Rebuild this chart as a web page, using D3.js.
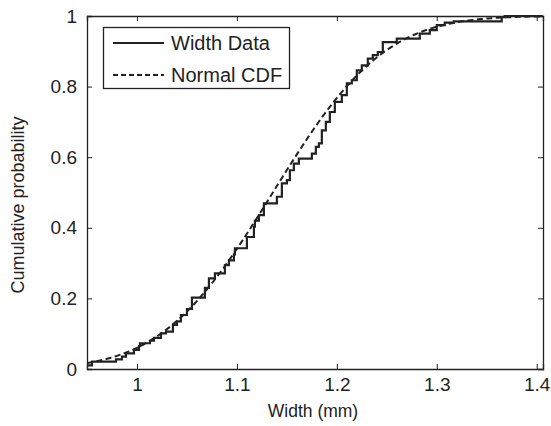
<!DOCTYPE html>
<html>
<head>
<meta charset="utf-8">
<script src="https://cdn.jsdelivr.net/npm/d3@7"></script>
<style>
  body { margin: 0; background: #fff; }
  text { font-family: "Liberation Sans", Arial, sans-serif; fill: #222; }
</style>
</head>
<body>
<svg width="551" height="426"></svg>
<script>
const svg = d3.select("svg");

// Empirical CDF of width data: step positions (mm) and cumulative probability after each step
const stepX = [0.950, 0.955, 0.979, 0.985, 0.989, 0.997, 1.002, 1.003, 1.013, 1.017,
  1.024, 1.029, 1.036, 1.040, 1.044, 1.050, 1.055, 1.068, 1.072, 1.078,
  1.088, 1.092, 1.097, 1.098, 1.110, 1.117, 1.118, 1.122, 1.127, 1.140,
  1.145, 1.150, 1.153, 1.157, 1.162, 1.175, 1.179, 1.182, 1.185, 1.189,
  1.193, 1.198, 1.205, 1.210, 1.215, 1.220, 1.225, 1.231, 1.236, 1.241,
  1.246, 1.260, 1.283, 1.293, 1.300, 1.308, 1.317, 1.365, 1.368, 1.406];
const stepY = [0.010, 0.021, 0.027, 0.035, 0.044, 0.054, 0.065, 0.073, 0.080, 0.088,
  0.101, 0.106, 0.125, 0.135, 0.153, 0.170, 0.202, 0.230, 0.257, 0.271,
  0.294, 0.308, 0.325, 0.342, 0.374, 0.403, 0.420, 0.436, 0.469, 0.488,
  0.526, 0.535, 0.563, 0.582, 0.596, 0.610, 0.629, 0.639, 0.676, 0.700,
  0.728, 0.757, 0.776, 0.809, 0.818, 0.846, 0.860, 0.879, 0.889, 0.898,
  0.926, 0.936, 0.950, 0.960, 0.974, 0.981, 0.985, 0.997, 1.000, 1.000];

// Fitted normal distribution
const normalMean = 1.136;
const normalSd = 0.0875;

const xTicks = [1, 1.1, 1.2, 1.3, 1.4];
const yTicks = [0, 0.2, 0.4, 0.6, 0.8, 1];
const legendLabels = ["Width Data", "Normal CDF"];

const mLeft = 87, mRight = 543, mTop = 16, mBottom = 369;

const x = d3.scaleLinear().domain([0.95, 1.4063]).range([mLeft, mRight]);
const y = d3.scaleLinear().domain([0, 1]).range([mBottom, mTop]);

// normal cdf via erf approximation
function erf(z) {
  const t = 1 / (1 + 0.3275911 * Math.abs(z));
  const p = 1 - (((((1.061405429 * t - 1.453152027) * t) + 1.421413741) * t - 0.284496736) * t + 0.254829592) * t * Math.exp(-z * z);
  return z >= 0 ? p : -p;
}
const normCdf = v => 0.5 * (1 + erf((v - normalMean) / (normalSd * Math.SQRT2)));

const cdfXs = d3.range(0.95, 1.4064, 0.002);

// Axes (box with inward ticks)
const g = svg.append("g");

g.append("g")
  .attr("transform", `translate(0,${mBottom})`)
  .call(d3.axisBottom(x).tickValues(xTicks).tickSize(-5).tickPadding(9).tickFormat(d3.format("")));
g.append("g")
  .attr("transform", `translate(0,${mTop})`)
  .call(d3.axisTop(x).tickValues(xTicks).tickSize(-5).tickFormat(""));
g.append("g")
  .attr("transform", `translate(${mLeft},0)`)
  .call(d3.axisLeft(y).tickValues(yTicks).tickSize(-5).tickPadding(10).tickFormat(d3.format("")));
g.append("g")
  .attr("transform", `translate(${mRight},0)`)
  .call(d3.axisRight(y).tickValues(yTicks).tickSize(-5).tickFormat(""));

g.selectAll(".domain").attr("stroke", "#222").attr("stroke-width", 1.3);
g.selectAll(".tick line").attr("stroke", "#222").attr("stroke-width", 1);
g.selectAll(".tick text").style("font-size", "19px").attr("fill", "#222");

// Normal CDF (dashed)
svg.append("path")
  .datum(cdfXs)
  .attr("fill", "none")
  .attr("stroke", "#222")
  .attr("stroke-width", 2)
  .attr("stroke-dasharray", "6,3.5")
  .attr("d", d3.line().x(d => x(d)).y(d => y(normCdf(d))));

// Empirical CDF (stairs)
svg.append("path")
  .datum(d3.range(stepX.length))
  .attr("fill", "none")
  .attr("stroke", "#222")
  .attr("stroke-width", 2.2)
  .attr("d", d3.line().curve(d3.curveStepAfter).x(i => x(stepX[i])).y(i => y(stepY[i])));

// Axis labels
svg.append("text")
  .attr("x", 313).attr("y", 417)
  .attr("text-anchor", "middle").style("font-size", "17.5px")
  .text("Width (mm)");
svg.append("text")
  .attr("transform", `translate(24,205) rotate(-90)`)
  .attr("text-anchor", "middle").style("font-size", "18px")
  .text("Cumulative probability");

// Legend
const lg = svg.append("g");
lg.append("rect")
  .attr("x", 103.5).attr("y", 27.5).attr("width", 186).attr("height", 61)
  .attr("fill", "#fff").attr("stroke", "#222").attr("stroke-width", 1.3);
legendLabels.forEach((lab, i) => {
  const ly = 43 + i * 32;
  lg.append("line")
    .attr("x1", 113).attr("x2", 164).attr("y1", ly).attr("y2", ly)
    .attr("stroke", "#222").attr("stroke-width", 2)
    .attr("stroke-dasharray", i === 1 ? "5,3" : null);
  lg.append("text")
    .attr("x", 171).attr("y", ly + 7)
    .style("font-size", "20px")
    .text(lab);
});
</script>
</body>
</html>
